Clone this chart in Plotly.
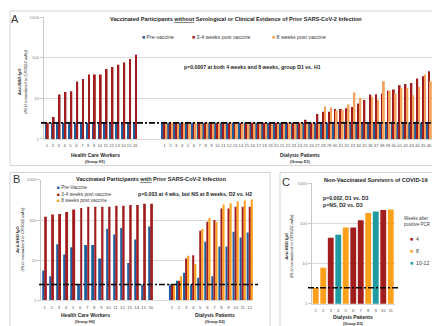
import plotly.graph_objects as go

# ---------------- data ----------------
CUTOFF = 2.5

# Panel A : without prior infection
A_HCW_LABELS = [str(i) for i in range(1, 17)]
A_HCW_PRE = [2.5, 2.5, 2.5, 2.5, 2.5, 2.5, 2.5, 2.5, 2.5, 2.5, 2.5, 2.5, 2.5, 2.5, 2.5, 2.5]
A_HCW_WK4 = [2.5, 3.5, 12.4, 14.4, 14.9, 26, 30, 38.5, 38.5, 39, 53, 59, 67, 77, 93, 118]

A_D1_LABELS = [str(i) for i in range(1, 47)]
A_D1_PRE = [2.5, 2.5, 2.5, 2.5, 2.5, 2.5, 2.5, 2.5, 2.5, 2.5,
            2.5, 2.5, 2.5, 2.5, 2.5, 2.5, 2.5, 2.5, 2.5, 2.5,
            2.5, 2.5, 2.5, 2.5, 2.5, 2.5, 2.5, 2.5, 2.5, 2.5,
            2.5, 2.5, 2.5, 2.5, 2.5, 2.5, 2.5, 2.5, 2.5, 2.5,
            2.5, 2.5, 2.5, 2.5, 2.5, 2.5]
A_D1_WK4 = [2.5, 2.5, 2.5, 2.5, 2.5, 2.5, 2.5, 2.5, 2.5, 2.5,
            2.5, 2.5, 2.5, 2.5, 2.5, 2.5, 2.5, 2.5, 2.5, 2.5,
            2.5, 2.5, 2.5, 2.5, 2.96, 2.5, 4.1, 4.7, 4.7, 5.5,
            5.5, 5.7, 6.1, 7.5, 9.1, 12.5, 12.7, 13.2, 15.4, 16.6,
            21, 22.7, 24, 30.7, 35, 46.5]
A_D1_WK8 = [2.5, 2.5, 2.5, 2.5, 2.5, 2.5, 2.5, 2.5, 2.5, 2.5,
            2.5, 2.5, 2.5, 2.5, 2.5, 2.5, 2.5, 2.5, 2.5, 2.5,
            2.5, 2.5, 2.5, 2.5, 2.5, 2.5, 2.5, 6.3, 6.0, 5.0,
            5.2, 7.1, 14, 10.4, 2.5, 11, 9.1, 26.5, 15.6, 13.2,
            18.2, 18.2, 12, 19, 38.5, 26.5]

# Panel B : with prior infection
B_HCW_LABELS = [str(i) for i in range(1, 17)]
B_HCW_PRE = [5.6, 4.0, 25, 13.9, 21, 2.5, 24, 24, 11, 61, 44, 63, 8.5, 33, 2.5, 69]
B_HCW_WK4 = [121, 138, 141, 158, 183, 200, 215, 215, 215, 215, 228, 228, 238, 238, 253, 253]

B_D2_LABELS = [str(i) for i in range(1, 13)]
B_D2_PRE = [2.5, 3.1, 4.9, 2.5, 3.7, 29, 4.0, 22, 22, 51, 37, 49]
B_D2_WK4 = [2.5, 3.1, 11.1, 13.4, 54, 91, 100, 195, 195, 215, 215, 215]
B_D2_WK8 = [2.5, 4.0, 13, 8.1, 60, 112, 89, 245, 260, 290, 305, 325]

# Panel C : non-vaccinated survivors
C_LABELS = [str(i) for i in range(1, 12)]
C_VALUES = [2.5, 7.8, 43.8, 52, 78, 78, 118, 181, 196, 214, 219]
C_WEEKS = ["8", "8", "4", "10-12", "8", "4", "4", "8", "10-12", "4", "8"]
C_WEEK_GROUPS = ["4", "8", "10-12"]

# ---------------- style ----------------
W, H = 440, 326
FONT = "Liberation Sans"
BLUE = "#1f5e9e"
RED = "#a11d1d"
ORANGE_A = "#f5a25a"
ORANGE_B = "#ff9f1a"
TEAL = "#1f9aa0"
C_COLORS = {"4": RED, "8": ORANGE_B, "10-12": TEAL}
GRID = "#d9d9d9"
TXT = "#262626"


def px(x):
    return x / W


def py(y):
    return 1 - y / H


fig = go.Figure()


def add_bars(x, y, color, xa, ya, offset, width):
    fig.add_trace(go.Bar(x=x, y=y, xaxis=xa, yaxis=ya, offset=offset, width=width,
                         marker=dict(color=color, line=dict(width=0)),
                         showlegend=False, hoverinfo="skip"))


# Panel A positions (categories with a gap between groups)
a_hcw_x = list(range(len(A_HCW_LABELS)))
a_d1_x = [20 + i for i in range(len(A_D1_LABELS))]
wa = 0.31
add_bars(a_hcw_x, A_HCW_PRE, BLUE, "x", "y", -wa, wa)
add_bars(a_hcw_x, A_HCW_WK4, RED, "x", "y", 0.0, wa)
add_bars(a_d1_x, A_D1_PRE, BLUE, "x", "y", -1.5 * wa, wa)
add_bars(a_d1_x, A_D1_WK4, RED, "x", "y", -0.5 * wa, wa)
add_bars(a_d1_x, A_D1_WK8, ORANGE_A, "x", "y", 0.5 * wa, wa)

# Panel B
b_hcw_x = list(range(len(B_HCW_LABELS)))
b_d2_x = [18 + i for i in range(len(B_D2_LABELS))]
wb = 0.29
add_bars(b_hcw_x, B_HCW_PRE, BLUE, "x2", "y2", -0.3, 0.28)
add_bars(b_hcw_x, B_HCW_WK4, RED, "x2", "y2", 0.02, 0.28)
add_bars(b_d2_x, B_D2_PRE, BLUE, "x2", "y2", -1.5 * wb, wb)
add_bars(b_d2_x, B_D2_WK4, RED, "x2", "y2", -0.5 * wb, wb)
add_bars(b_d2_x, B_D2_WK8, ORANGE_B, "x2", "y2", 0.5 * wb, wb)

# Panel C
for g in C_WEEK_GROUPS:
    xs = [i for i, wk in enumerate(C_WEEKS) if wk == g]
    ys = [C_VALUES[i] for i in xs]
    add_bars(xs, ys, C_COLORS[g], "x3", "y3", -0.39, 0.78)

tickfont = dict(family=FONT, size=4.3, color="#595959")
yfont = dict(family=FONT, size=4.3, color="#7f7f7f")


def yaxis(domain, anchor):
    return dict(type="log", range=[0, 3], domain=domain, tickvals=[1, 10, 100, 1000],
                ticktext=["1", "10", "100", "1000"], showgrid=True, gridcolor=GRID,
                gridwidth=0.8, showline=True, linecolor="#c8c8c8", linewidth=1,
                ticks="outside", ticklen=3, tickcolor="#c8c8c8", tickfont=yfont,
                zeroline=False, fixedrange=True, anchor=anchor)


def xaxis(domain, rng, tv, tt, anchor):
    return dict(domain=domain, range=rng, tickvals=tv, ticktext=tt, tickfont=tickfont,
                showgrid=False, zeroline=False, showline=True, linecolor="#d9d9d9",
                linewidth=1, ticks="", anchor=anchor, tickangle=0, ticklabelstandoff=2)


fig.update_layout(
    width=W, height=H, margin=dict(l=0, r=0, t=0, b=0),
    paper_bgcolor="white", plot_bgcolor="white", barmode="overlay",
    showlegend=False, font=dict(family=FONT, color=TXT),
    xaxis=xaxis([px(36), px(424)], [-0.5, 65.5], a_hcw_x + a_d1_x,
                A_HCW_LABELS + A_D1_LABELS, "y"),
    yaxis=yaxis([py(131), py(7.3)], "x"),
    xaxis2=xaxis([px(33.2), px(245.3)], [-0.5, 29.5], b_hcw_x + b_d2_x,
                 B_HCW_LABELS + B_D2_LABELS, "y2"),
    yaxis2=yaxis([py(295), py(172.5)], "x2"),
    xaxis3=xaxis([px(304), px(386.5)], [-0.5, 10.5], list(range(len(C_LABELS))),
                 C_LABELS, "y3"),
    yaxis3=yaxis([py(298.3), py(175.7)], "x3"),
)

shapes = []
# panel frames
for (x0, y0, x1, y1) in [(2, 1, 438, 158), (2, 165, 262, 324), (272, 165, 437, 324)]:
    shapes.append(dict(type="rect", xref="paper", yref="paper", x0=px(x0), x1=px(x1),
                       y0=py(y1), y1=py(y0), line=dict(color="#d4d4d4", width=1),
                       layer="below"))
# cutoff lines
for (x0, x1, yr) in [(33, 428, "y"), (31, 250, "y2"), (300, 392, "y3")]:
    shapes.append(dict(type="line", xref="paper", yref=yr, x0=px(x0), x1=px(x1),
                       y0=CUTOFF, y1=CUTOFF,
                       line=dict(color="black", width=1.6, dash="6px,2px,2px,2px")))
fig.update_layout(shapes=shapes)

ann = []


def txt(x, y, s, size, xanchor="center", color=TXT, angle=0, yanchor="middle", align="center"):
    ann.append(dict(x=px(x), y=py(y), xref="paper", yref="paper", text=s, showarrow=False,
                    xanchor=xanchor, yanchor=yanchor, textangle=angle, align=align,
                    font=dict(family=FONT, size=size, color=color)))


def sq(color):
    return '<span style="color:%s">■</span>' % color


# Panel A texts
txt(7, 9, "A", 11, color="#333")
txt(228, 9, "<b>Vaccinated Participants <u>without</u> Serological or Clinical Evidence of Prior SARS-CoV-2 Infection</b>", 5.6)
txt(132, 27.7, sq(BLUE) + " Pre-vaccine", 5.2, xanchor="left", color="#404040")
txt(182, 27.7, sq(RED) + " 3-4 weeks post vaccine", 5.2, xanchor="left", color="#404040")
txt(262, 27.7, sq(ORANGE_A) + " 8 weeks post vaccine", 5.2, xanchor="left", color="#404040")
txt(245, 57.7, "<b>p=0.0007 at both 4 weeks and 8 weeks, group D1 vs. H1</b>", 5.2)
txt(14, 73, "<b><i>Anti-RBD IgG</i></b><br><i>(RLU normalized to CR3022 mAb)</i>", 4.2, angle=-90)
txt(87, 147, "<b>Health Care Workers</b>", 5.0)
txt(87, 154, "<b>(Group H1)</b>", 3.8)
txt(292, 147, "<b>Dialysis Patients</b>", 5.0)
txt(292, 154, "<b>(Group D1)</b>", 3.8)

# Panel B texts
txt(8, 172, "B", 11, color="#333")
txt(143, 172, "<b>Vaccinated Participants <u>with</u> Prior SARS-CoV-2 Infection</b>", 5.6)
txt(47, 180.7, sq(BLUE) + " Pre-Vaccine", 4.8, xanchor="left", color="#404040")
txt(47, 187.3, sq(RED) + " 3-4 weeks post vaccine", 4.8, xanchor="left", color="#404040")
txt(47, 193.7, sq(ORANGE_B) + " 8 weeks post vaccine", 4.8, xanchor="left", color="#404040")
txt(187, 186.7, "<b>p=0.003 at 4 wks, but NS at 8 weeks, D2 vs. H2</b>", 5.2)
txt(12, 233, "<b><i>Anti-RBD IgG</i></b><br><i>(RLU normalized to CR3022 mAb)</i>", 4.2, angle=-90)
txt(77, 310, "<b>Health Care Workers</b>", 5.0)
txt(77, 316.5, "<b>(Group H2)</b>", 3.8)
txt(207, 310, "<b>Dialysis Patients</b>", 5.0)
txt(207, 316.5, "<b>(Group D2)</b>", 3.8)

# Panel C texts
txt(278, 175, "C", 11, color="#333")
txt(368, 173, "<b>Non-Vaccinated Survivors of COVID-19</b>", 5.6)
txt(313, 191, "<b>p=0.002, D1 vs. D3</b>", 5.2, xanchor="left")
txt(313, 198.5, "<b>p=NS, D2 vs. D3</b>", 5.2, xanchor="left")
txt(394, 215, "Weeks after<br>positive PCR", 4.5, xanchor="left", color="#404040", align="left")
for i, g in enumerate(C_WEEK_GROUPS):
    txt(400, 232.3 + 12.5 * i, sq(C_COLORS[g]) + "  " + g, 5.2, xanchor="left", color="#404040")
txt(281, 240, "<b><i>Anti-RBD IgG</i></b><br><i>(RLU normalized to CR3022 mAb)</i>", 4.2, angle=-90)
txt(345, 311.7, "<b>Dialysis Patients</b>", 5.0)
txt(345, 319, "<b>(Group D3)</b>", 3.8)

fig.update_layout(annotations=ann)
fig.write_html("out.html")
